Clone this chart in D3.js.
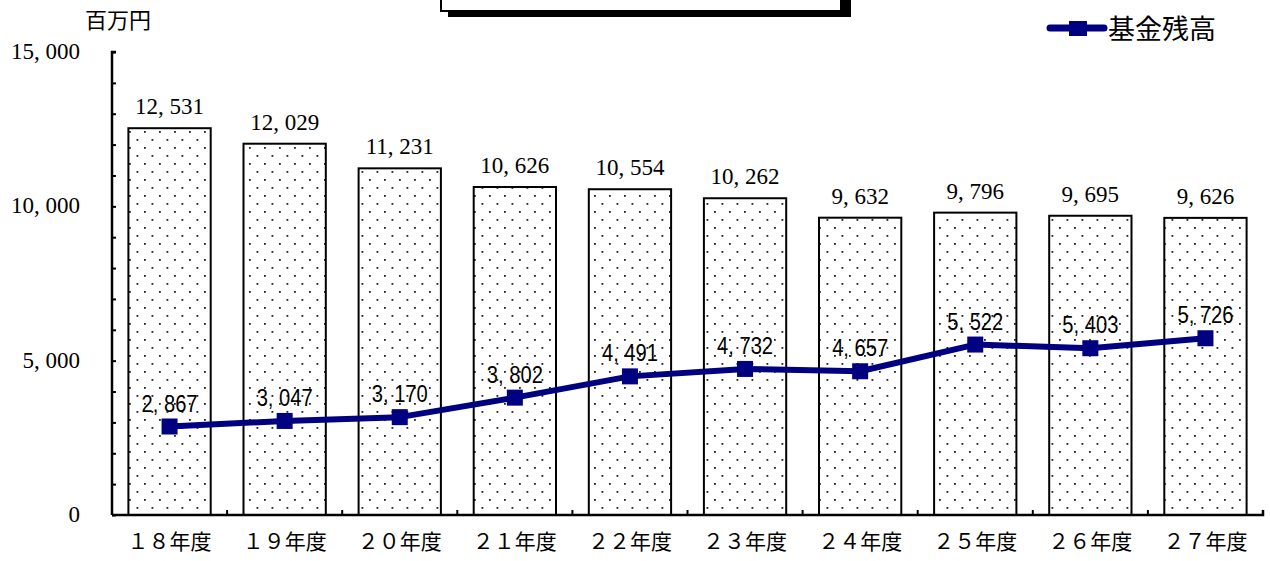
<!DOCTYPE html>
<html>
<head>
<meta charset="utf-8">
<script src="https://cdn.jsdelivr.net/npm/d3@7"></script>
<style>
  html, body { margin: 0; padding: 0; background: #fff; }
  svg { display: block; }
</style>
</head>
<body>
<svg id="chart" width="1270" height="561"></svg>
<script>
// Fiscal years (Heisei 18–27)
const categories = ["１８年度", "１９年度", "２０年度", "２１年度", "２２年度",
                    "２３年度", "２４年度", "２５年度", "２６年度", "２７年度"];
// Bar series (百万円)
const barValues = [12531, 12029, 11231, 10626, 10554, 10262, 9632, 9796, 9695, 9626];
// Line series: 基金残高 (百万円)
const fundValues = [2867, 3047, 3170, 3802, 4491, 4732, 4657, 5522, 5403, 5726];
// Y axis labelled ticks
const yTicks = [0, 5000, 10000, 15000];
const unitLabel = "百万円";
const legendLabel = "基金残高";

const svg = d3.select("#chart");
const margin = { left: 112, right: 1263, top: 52, bottom: 515 };

const x = d3.scaleBand().domain(categories)
  .range([margin.left, margin.right]).paddingInner(0.285).paddingOuter(0.1425);
const y = d3.scaleLinear().domain([0, 15000]).range([margin.bottom, margin.top]);

const serif = "'Liberation Serif', 'DejaVu Serif', serif";
const cjk = "'Noto Sans CJK JP', 'Noto Sans', sans-serif";
const fmt = v => d3.format(",")(v).replace(",", ", ");

// Dotted fill for the bars
const defs = svg.append("defs");
const pat = defs.append("pattern").attr("id", "dots")
  .attr("patternUnits", "userSpaceOnUse").attr("width", 15).attr("height", 16)
  .attr("x", 129).attr("y", 131);
pat.append("rect").attr("width", 15).attr("height", 16).attr("fill", "#fff");
pat.append("rect").attr("x", 0).attr("y", 0).attr("width", 1.8).attr("height", 1.8).attr("fill", "#222");
pat.append("rect").attr("x", 7.5).attr("y", 8).attr("width", 1.8).attr("height", 1.8).attr("fill", "#222");

// Framed title box at the top (runs above the page edge), with a drop shadow
svg.append("rect").attr("x", 448).attr("y", -40).attr("width", 403).attr("height", 57).attr("fill", "#000");
svg.append("rect").attr("x", 441).attr("y", -40).attr("width", 400).attr("height", 51)
  .attr("fill", "#fff").attr("stroke", "#000").attr("stroke-width", 2);

// Bars
svg.append("g").selectAll("rect").data(barValues).join("rect")
  .attr("x", (d, i) => x(categories[i]))
  .attr("y", d => y(d))
  .attr("width", x.bandwidth())
  .attr("height", d => y(0) - y(d))
  .attr("fill", "url(#dots)")
  .attr("stroke", "#000").attr("stroke-width", 2);

// Bar value labels
svg.append("g").selectAll("text").data(barValues).join("text")
  .attr("x", (d, i) => x(categories[i]) + x.bandwidth() / 2)
  .attr("y", d => y(d) - 14)
  .attr("text-anchor", "middle")
  .attr("font-family", serif).attr("font-size", 23).attr("fill", "#000")
  .text(fmt);

// Axes
const yAxis = d3.axisRight(y).tickValues(d3.range(0, 15001, 1000)).tickSize(4).tickFormat("");
const gy = svg.append("g").attr("transform", `translate(${margin.left},0)`).call(yAxis);
gy.select(".domain").attr("stroke", "#000").attr("stroke-width", 2.5).attr("d", `M4,${margin.top}H0V${margin.bottom}`);
gy.selectAll(".tick line").attr("stroke", "#000").attr("stroke-width", 2);

svg.append("g").selectAll("text").data(yTicks).join("text")
  .attr("x", 80).attr("y", d => y(d) + 7)
  .attr("text-anchor", "end")
  .attr("font-family", serif).attr("font-size", 23).attr("fill", "#000")
  .text(fmt);

const xAxis = d3.axisBottom(x).tickSize(0).tickFormat(d => d);
const gx = svg.append("g").attr("transform", `translate(0,${margin.bottom})`).call(xAxis);
gx.select(".domain").attr("stroke", "#000").attr("stroke-width", 2.5).attr("d", `M${margin.left},0H${margin.right}V-5`);
gx.selectAll(".tick text").attr("font-family", cjk).attr("font-size", 21).attr("fill", "#000")
  .attr("dy", 0).attr("y", 34);

// Category boundary ticks
const step = x.step();
svg.append("g").selectAll("line").data(categories.slice(1)).join("line")
  .attr("x1", d => x(d) - (step - x.bandwidth()) / 2)
  .attr("x2", d => x(d) - (step - x.bandwidth()) / 2)
  .attr("y1", margin.bottom).attr("y2", margin.bottom - 5)
  .attr("stroke", "#000").attr("stroke-width", 2);

// Fund balance line
const cx = (d, i) => x(categories[i]) + x.bandwidth() / 2;
const line = d3.line().x(cx).y(d => y(d));
svg.append("path").datum(fundValues)
  .attr("d", line).attr("fill", "none")
  .attr("stroke", "#000080").attr("stroke-width", 6).attr("stroke-linejoin", "round");
svg.append("g").selectAll("rect").data(fundValues).join("rect")
  .attr("x", (d, i) => cx(d, i) - 8).attr("y", d => y(d) - 8)
  .attr("width", 16).attr("height", 16).attr("fill", "#000080");

// Line value labels, condensed
svg.append("g").selectAll("text").data(fundValues).join("text")
  .attr("x", cx).attr("y", d => y(d) - 15)
  .attr("text-anchor", "middle")
  .attr("font-family", "'Liberation Sans', sans-serif")
  .attr("font-size", 23).attr("fill", "#000")
  .attr("textLength", 56).attr("lengthAdjust", "spacingAndGlyphs")
  .text(fmt);

// Unit label
svg.append("text").attr("x", 85).attr("y", 28)
  .attr("font-family", cjk).attr("font-size", 22).attr("fill", "#000").text(unitLabel);

// Legend
const lg = svg.append("g");
lg.append("line").attr("x1", 1050).attr("x2", 1104).attr("y1", 28).attr("y2", 28)
  .attr("stroke", "#000080").attr("stroke-width", 7).attr("stroke-linecap", "round");
lg.append("rect").attr("x", 1069).attr("y", 21).attr("width", 18).attr("height", 15).attr("fill", "#000080");
lg.append("text").attr("x", 1108).attr("y", 39)
  .attr("font-family", cjk).attr("font-size", 27).attr("fill", "#000").text(legendLabel);
</script>
</body>
</html>
